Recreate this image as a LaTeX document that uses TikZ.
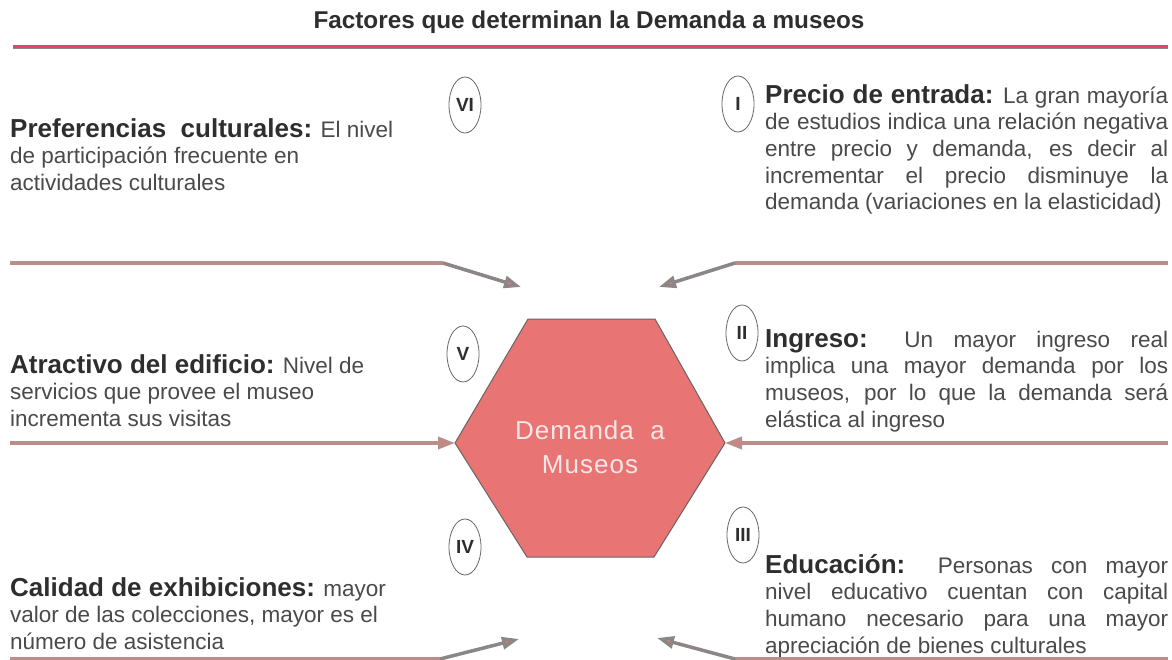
\documentclass[tikz,border=0pt]{standalone}
\usepackage{fontspec}
\setmainfont{Liberation Sans}
\usetikzlibrary{arrows.meta,shapes.geometric}
\definecolor{txt}{HTML}{2E2E2E}
\definecolor{bodytxt}{HTML}{4A4A4A}
\definecolor{hexfill}{HTML}{E87474}
\definecolor{hexline}{HTML}{6A6464}
\definecolor{hextext}{HTML}{FAE6E6}
\definecolor{conn}{HTML}{BC8C88}
\definecolor{slant}{HTML}{8C8686}
\definecolor{tipfill}{HTML}{E47878}
\definecolor{rulered}{HTML}{E2446C}
\newcommand{\hd}[1]{{\fontsize{26}{26}\selectfont\bfseries\color{txt}#1}}
\newcommand{\jl}[1]{\makebox[403pt][s]{#1}}
\tikzset{
  bodyblock/.style={anchor=north west, inner sep=0pt, align=left, text=bodytxt,
    font=\fontsize{22.5}{26.7}\selectfont},
  numel/.style={ellipse, draw=hexline, line width=0.8pt, minimum width=32pt,
    minimum height=56pt, inner sep=0pt, font=\fontsize{19}{19}\selectfont\bfseries, text=txt},
  hline/.style={draw=conn, line width=3.5pt},
  sline/.style={draw=slant, line width=3.5pt},
  tipped/.style={-{Triangle[length=17pt,width=12pt,fill=tipfill]}},
}
\begin{document}
\begin{tikzpicture}[x=1pt,y=-1pt]
\useasboundingbox (0,0) rectangle (1172,660);
\fill[white] (0,0) rectangle (1172,660);

% title
\node[font=\fontsize{24.3}{24}\selectfont\bfseries, text=txt, inner sep=0pt] (title) at (589,22) {Factores que determinan la Demanda a museos};
\coordinate (rl) at (13,47);
\coordinate (rr) at (1168,47);
\draw[line width=4pt, rulered] (rl) -- (rr);
\draw[line width=0.8pt, slant] ([yshift=-1.8pt]rl) -- ([yshift=-1.8pt]rr);

% hexagon
\coordinate (hTL) at (528,319);
\coordinate (hTR) at (655,319);
\coordinate (hR) at (725,443);
\coordinate (hBR) at (654,557);
\coordinate (hBL) at (527,557);
\coordinate (hL) at (455,443);
\draw[fill=hexfill, draw=hexline, line width=1pt] (hTL) -- (hTR) -- (hR) -- (hBR) -- (hBL) -- (hL) -- cycle;
\node[align=center, text=hextext, font=\fontsize{26}{34}\selectfont\addfontfeature{LetterSpace=4}, inner sep=0pt] (hex) at (590,447) {Demanda\ \ a\\Museos};

% roman numerals
\node[numel] (n6) at (465,105) {VI};
\node[numel] (n1) at (738,104) {I};
\node[numel] (n5) at (463,354) {V};
\node[numel] (n2) at (742,333) {II};
\node[numel] (n4) at (465,547) {IV};
\node[numel] (n3) at (743,535) {III};

% left texts
\node[bodyblock] (t6) at (10,118) {\hd{Preferencias\ \ culturales:} El nivel\\de participación frecuente en\\actividades culturales};
\node[bodyblock] (t5) at (10,354) {\hd{Atractivo del edificio:} Nivel de\\servicios que provee el museo\\incrementa sus visitas};
\node[bodyblock] (t4) at (10,577) {\hd{Calidad de exhibiciones:} mayor\\valor de las colecciones, mayor es el\\número de asistencia};

% right texts
\node[bodyblock] (t1) at (765,84) {\jl{\hd{Precio de entrada:} La gran mayoría}\\\jl{de estudios indica una relación negativa}\\\jl{entre precio y demanda, es decir al}\\\jl{incrementar el precio disminuye la}\\demanda (variaciones en la elasticidad)};
\node[bodyblock] (t2) at (765,329) {\jl{\hd{Ingreso:} Un mayor ingreso real}\\\jl{implica una mayor demanda por los}\\\jl{museos, por lo que la demanda será}\\elástica al ingreso};
\node[bodyblock] (t3) at (765,554) {\jl{\hd{Educación:} Personas con mayor}\\\jl{nivel educativo cuentan con capital}\\\jl{humano necesario para una mayor}\\apreciación de bienes culturales};

% connectors
\coordinate (a6s) at (10,263);   \coordinate (a6k) at (443,263);  \coordinate (a6e) at (521,287);
\coordinate (a1s) at (1168,263); \coordinate (a1k) at (735,263);  \coordinate (a1e) at (659,287);
\coordinate (a5s) at (10,443);
\coordinate (a2s) at (1168,443);
\coordinate (a4s) at (10,659);   \coordinate (a4k) at (440,659);  \coordinate (a4e) at (519,639);
\coordinate (a3s) at (1168,659); \coordinate (a3k) at (735,659);  \coordinate (a3e) at (657,638);

\draw[hline] (a6s) -- (a6k);
\draw[sline, tipped] (a6k) -- (a6e);
\draw[hline] (a1s) -- (a1k);
\draw[sline, tipped] (a1k) -- (a1e);
\draw[hline, tipped] (a5s) -- (hL);
\draw[hline, tipped] (a2s) -- (hR);
\draw[hline] (a4s) -- (a4k);
\draw[sline, tipped] (a4k) -- (a4e);
\draw[hline] (a3s) -- (a3k);
\draw[sline, tipped] (a3k) -- (a3e);
\end{tikzpicture}
\end{document}
